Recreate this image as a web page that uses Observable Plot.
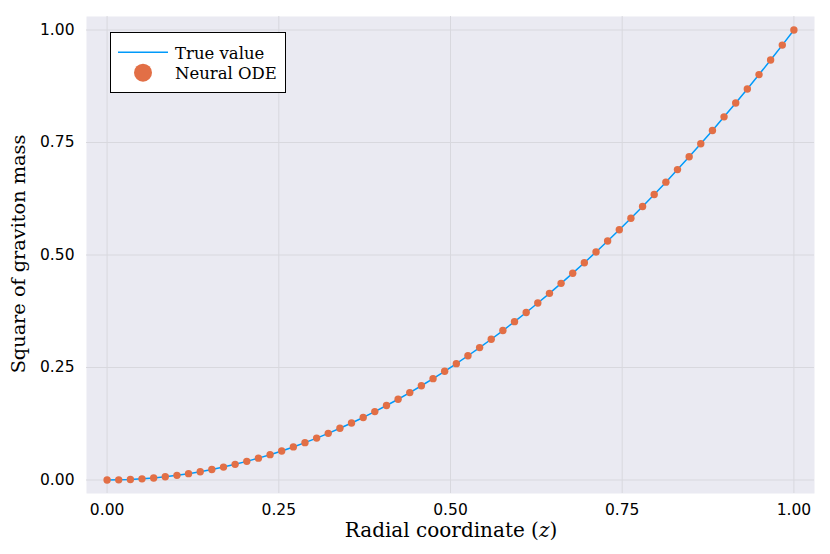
<!DOCTYPE html>
<html><head><meta charset="utf-8">
<script src="https://cdn.jsdelivr.net/npm/d3@7"></script>
<script src="https://cdn.jsdelivr.net/npm/@observablehq/plot@0.6"></script>
<style>body{margin:0;background:#fff}</style>
</head><body><div id="chart"></div>
<script>
const z = [0, 0.0169, 0.0339, 0.0508, 0.0678, 0.0847, 0.1017, 0.1186, 0.1356, 0.1525,
  0.1695, 0.1864, 0.2034, 0.2203, 0.2373, 0.2542, 0.2712, 0.2881, 0.3051, 0.322,
  0.339, 0.3559, 0.3729, 0.3898, 0.4068, 0.4237, 0.4407, 0.4576, 0.4746, 0.4915,
  0.5085, 0.5254, 0.5424, 0.5593, 0.5763, 0.5932, 0.6102, 0.6271, 0.6441, 0.661,
  0.678, 0.6949, 0.7119, 0.7288, 0.7458, 0.7627, 0.7797, 0.7966, 0.8136, 0.8305,
  0.8475, 0.8644, 0.8814, 0.8983, 0.9153, 0.9322, 0.9492, 0.9661, 0.9831, 1.0];
const trueValue = [0, 0.0003, 0.0011, 0.0026, 0.0046, 0.0072, 0.0103, 0.0141, 0.0184, 0.0233,
  0.0287, 0.0348, 0.0414, 0.0486, 0.0563, 0.0646, 0.0735, 0.083, 0.0931, 0.1037,
  0.1149, 0.1267, 0.139, 0.152, 0.1655, 0.1795, 0.1942, 0.2094, 0.2252, 0.2416,
  0.2585, 0.2761, 0.2942, 0.3128, 0.3321, 0.3519, 0.3723, 0.3933, 0.4148, 0.437,
  0.4596, 0.4829, 0.5068, 0.5312, 0.5562, 0.5817, 0.6079, 0.6346, 0.6619, 0.6898,
  0.7182, 0.7472, 0.7768, 0.807, 0.8377, 0.869, 0.9009, 0.9333, 0.9664, 1.0];
const neuralODE = [0, 0.0003, 0.0011, 0.0026, 0.0046, 0.0072, 0.0103, 0.0141, 0.0184, 0.0233,
  0.0287, 0.0348, 0.0414, 0.0486, 0.0563, 0.0646, 0.0735, 0.083, 0.0931, 0.1037,
  0.1149, 0.1267, 0.139, 0.152, 0.1655, 0.1795, 0.1942, 0.2094, 0.2252, 0.2416,
  0.2585, 0.2761, 0.2942, 0.3128, 0.3321, 0.3519, 0.3723, 0.3933, 0.4148, 0.437,
  0.4596, 0.4829, 0.5068, 0.5312, 0.5562, 0.5817, 0.6079, 0.6346, 0.6619, 0.6898,
  0.7182, 0.7472, 0.7768, 0.807, 0.8377, 0.869, 0.9009, 0.9333, 0.9664, 1.0];
const xTicks = [0, 0.25, 0.5, 0.75, 1];
const yTicks = [0, 0.25, 0.5, 0.75, 1];
const xLabel = "Radial coordinate ";
const xLabelVar = "z";
const yLabel = "Square of graviton mass";
const seriesNames = ["True value", "Neural ODE"];
const colors = ["#009AFA", "#E26F46"];

const rows = z.map((v, i) => ({z: v, t: trueValue[i], n: neuralODE[i]}));
const serif = "'DejaVu Serif', 'Liberation Serif', serif";

const svg = Plot.plot({
  width: 830, height: 554,
  marginLeft: 86, marginRight: 16, marginTop: 16, marginBottom: 61,
  style: {background: "#fff", fontFamily: "'DejaVu Sans', sans-serif", color: "#000"},
  x: {domain: [-0.03, 1.03]},
  y: {domain: [-0.03, 1.03]},
  marks: [
    Plot.frame({fill: "#EAEAF2", stroke: "none"}),
    Plot.gridX(xTicks, {stroke: "#D8D8DE", strokeOpacity: 1, strokeWidth: 1}),
    Plot.gridY(yTicks, {stroke: "#D8D8DE", strokeOpacity: 1, strokeWidth: 1}),
    Plot.axisX({ticks: xTicks, tickFormat: d3.format(".2f"), tickSize: 0, tickPadding: 10, fontSize: 15.5, label: null}),
    Plot.axisY({ticks: yTicks, tickFormat: d3.format(".2f"), tickSize: 0, tickPadding: 12, fontSize: 15.5, label: null}),
    Plot.line(rows, {x: "z", y: "t", stroke: colors[0], strokeWidth: 1.5}),
    Plot.dot(rows, {x: "z", y: "n", r: 3.7, fill: colors[1], stroke: "none"})
  ]
});

const s = d3.select(svg);
// axis labels
const xl = s.append("text").attr("x", 451).attr("y", 537).attr("text-anchor", "middle")
  .attr("font-family", serif).attr("font-size", 20).attr("fill", "#000");
xl.append("tspan").text(xLabel + "(");
xl.append("tspan").attr("font-style", "italic").text(xLabelVar);
xl.append("tspan").text(")");
s.append("text").attr("transform", "translate(25,254) rotate(-90)").attr("text-anchor", "middle")
  .attr("font-family", serif).attr("font-size", 19.3).attr("fill", "#000").text(yLabel);

// legend
const lg = s.append("g").attr("text-anchor", "start");
lg.append("rect").attr("x", 110.5).attr("y", 32.5).attr("width", 175).attr("height", 60)
  .attr("fill", "#fff").attr("stroke", "#000").attr("stroke-width", 1);
lg.append("line").attr("x1", 118).attr("x2", 168).attr("y1", 52.3).attr("y2", 52.3)
  .attr("stroke", colors[0]).attr("stroke-width", 1.5);
lg.append("circle").attr("cx", 143).attr("cy", 72.7).attr("r", 9).attr("fill", colors[1]);
lg.append("text").attr("x", 175).attr("y", 59).attr("text-anchor", "start").attr("font-family", serif).attr("font-size", 16.5)
  .attr("fill", "#000").text(seriesNames[0]);
lg.append("text").attr("x", 175).attr("y", 78.5).attr("text-anchor", "start").attr("font-family", serif).attr("font-size", 16.5)
  .attr("fill", "#000").text(seriesNames[1]);

document.getElementById("chart").appendChild(svg);
</script>
</body></html>
